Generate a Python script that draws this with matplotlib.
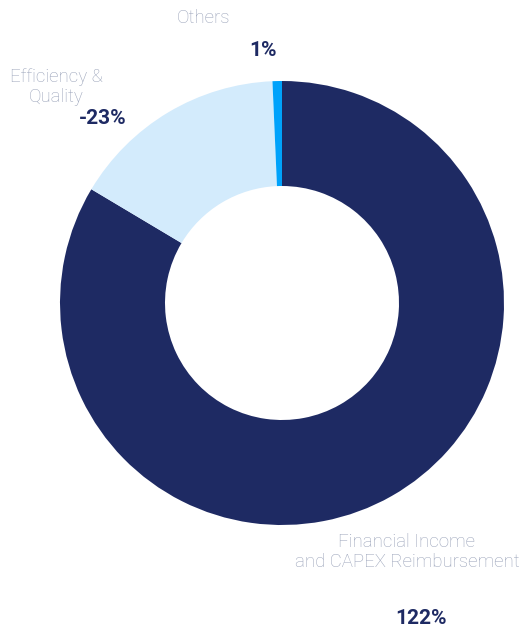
import matplotlib
matplotlib.use("Agg")
import matplotlib.pyplot as plt

categories = ["Financial Income\nand CAPEX Reimbursement", "Efficiency &\nQuality", "Others"]
values = [122, -23, 1]
pct_labels = ["122%", "-23%", "1%"]
colors = ["#1e2a63", "#d3ebfc", "#00a2fb"]

W, H = 525, 626
fig = plt.figure(figsize=(W / 100, H / 100), dpi=100)
ax = fig.add_axes([0, 0, 1, 1])
ax.set_xlim(0, W)
ax.set_ylim(0, H)
ax.set_aspect("equal")
ax.axis("off")

R = 222
cx, cy = 282, H - 303
ax.pie([abs(v) for v in values], colors=colors, startangle=90, counterclock=False,
       center=(cx, cy), radius=R, wedgeprops=dict(width=R - 117, linewidth=0), frame=True)
ax.set_xlim(0, W)
ax.set_ylim(0, H)
ax.axis("off")

gray = "#98a1b8"
navy = "#1e2a63"
lab_font = dict(family=["Roboto", "DejaVu Sans"], fontweight="light", fontsize=13.4, color=gray,
                ha="center", va="center", linespacing=1.15)
pct_font = dict(family=["Roboto", "DejaVu Sans"], fontweight="bold", fontsize=15, color=navy,
                ha="center", va="center")

# label positions (pixels from top-left)
lab_pos = [(407, 552), (56, 87), (203, 18)]
pct_pos = [(421, 618), (103, 119), (263, 50)]
for cat, pl, (lx, ly), (px, py) in zip(categories, pct_labels, lab_pos, pct_pos):
    ax.text(lx, H - ly, cat, **lab_font)
    ax.text(px, H - py, pl, **pct_font)

fig.savefig("out.png", dpi=100)
